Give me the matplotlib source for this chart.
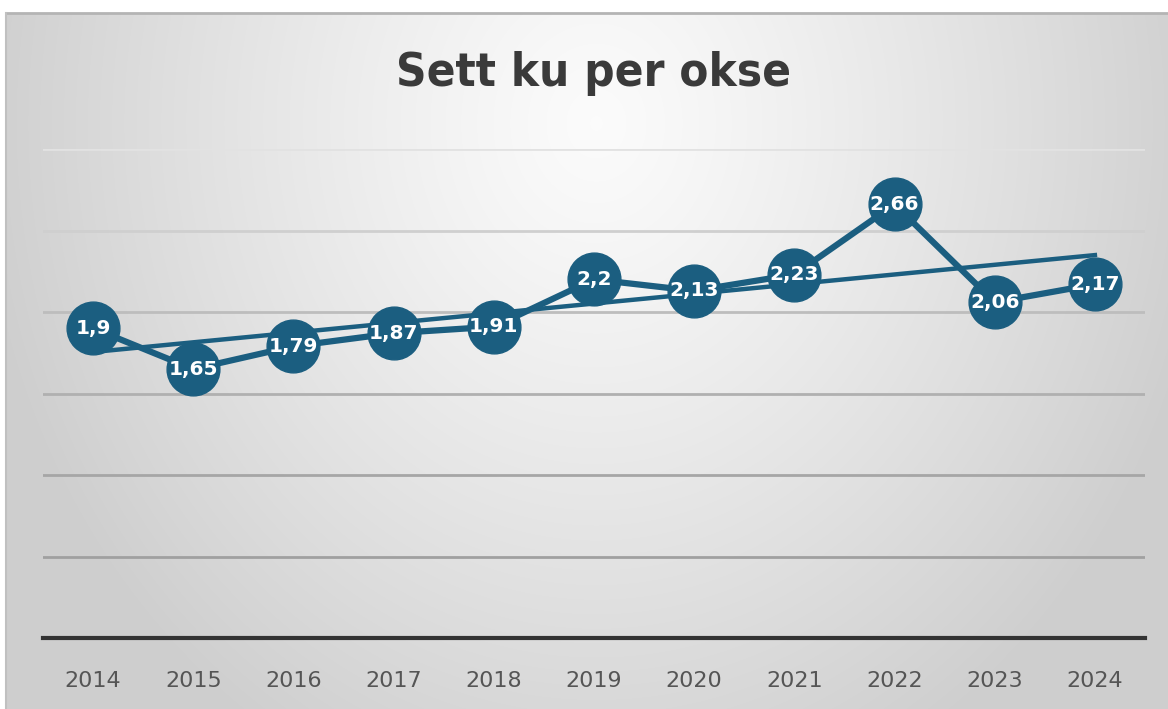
import matplotlib.pyplot as plt
from matplotlib import font_manager
import numpy as np

# Data
years = ['2014', '2015', '2016', '2017', '2018', '2019', '2020', '2021', '2022', '2023', '2024']
values = [1.9, 1.65, 1.79, 1.87, 1.91, 2.2, 2.13, 2.23, 2.66, 2.06, 2.17]
labels = ['1,9', '1,65', '1,79', '1,87', '1,91', '2,2', '2,13', '2,23', '2,66', '2,06', '2,17']
yticks = [0, 0.5, 1.0, 1.5, 2.0, 2.5, 3.0]

line_color = '#1b5e80'

# find a bold narrow font for the title
cands = [f for f in font_manager.fontManager.ttflist
         if ('Narrow' in f.name or 'Condensed' in f.name or 'Narrow' in f.fname or 'Condensed' in f.fname)]
bold = [f for f in cands if (f.weight in ('bold', 700) or (isinstance(f.weight, int) and f.weight >= 700)
                             or 'Bold' in f.fname) and f.style == 'normal']
if bold:
    title_font = font_manager.FontProperties(fname=bold[0].fname, size=34)
else:
    title_font = font_manager.FontProperties(family='DejaVu Sans', weight='bold', size=30)

fig = plt.figure(figsize=(11.68, 7.09), dpi=100)
fig.patch.set_facecolor('white')

# Radial gradient background
bg = fig.add_axes([6 / 1168, 0, 1 - 6 / 1168, 1 - 13 / 709])
W, H = 1162, 696
px, py = np.meshgrid(np.arange(W), np.arange(H))
r = np.sqrt(((px - 590) / 620.0) ** 2 + ((py - 110) / 720.0) ** 2)
shade = 0.985 - 0.175 * np.clip(r, 0, 1.0) ** 1.2
bg.imshow(np.dstack([shade] * 3), extent=[0, 1, 0, 1], aspect='auto', origin='upper')
bg.set_axis_off()
fig.add_artist(plt.Line2D([6 / 1168, 1], [1 - 13 / 709, 1 - 13 / 709], color='#b4b4b4', lw=2))
fig.add_artist(plt.Line2D([6 / 1168, 6 / 1168], [0, 1 - 13 / 709], color='#c0c0c0', lw=1.5))

ax = fig.add_axes([43 / 1168, 1 - 638 / 709, (1145 - 43) / 1168, (638 - 149) / 709])
ax.patch.set_alpha(0)
x = np.arange(len(years))

grid_colors = ['#e2e2e2', '#cfcfcf', '#bdbdbd', '#b0b0b0', '#a6a6a6', '#a0a0a0']
for yv, gc in zip(yticks[::-1], grid_colors):
    ax.axhline(yv, color=gc, lw=2, zorder=1)
ax.axhline(0, color='#333333', lw=3, zorder=2, clip_on=False)

# linear trend line
k, m = np.polyfit(x, values, 1)
ax.plot(x, k * x + m, color=line_color, lw=3.2, zorder=3)

ax.plot(x, values, color=line_color, lw=4.5, marker='o', markersize=38,
        markerfacecolor=line_color, markeredgecolor=line_color, zorder=4)
for xi, v, lab in zip(x, values, labels):
    ax.text(xi, v, lab, color='white', fontsize=14.5, fontweight='bold',
            ha='center', va='center', zorder=5)

ax.set_xlim(-0.5, len(years) - 0.5)
ax.set_ylim(0, 3)
ax.set_xticks(x)
ax.set_xticklabels(years, fontsize=16, color='#555555')
ax.set_yticks([])
ax.tick_params(axis='x', length=0, pad=24)
for s in ax.spines.values():
    s.set_visible(False)

fig.text(0.508, 1 - 74 / 709, 'Sett ku per okse', ha='center', va='center',
         color='#3a3a3a', fontproperties=title_font)

fig.savefig('out.png', dpi=100)
